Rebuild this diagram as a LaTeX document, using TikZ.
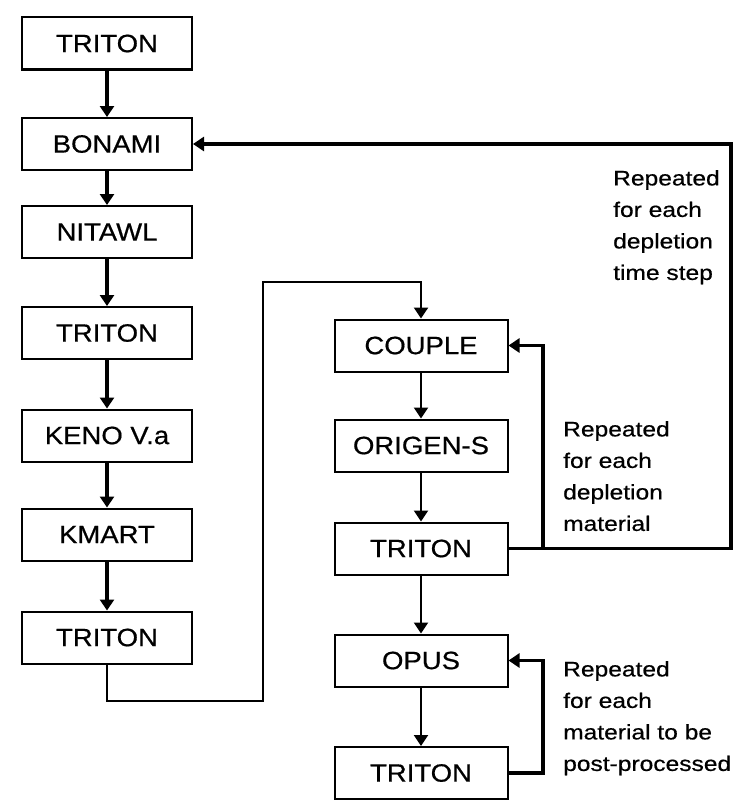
\documentclass[tikz,border=0pt]{standalone}
\usepackage{fontspec}
\setmainfont{Liberation Sans}
\newfontfamily\boxfont[FakeStretch=1.1,FakeBold=0.6]{Liberation Sans}
\newfontfamily\labfont[FakeStretch=1.17,FakeBold=0.5]{Liberation Sans}
\usetikzlibrary{arrows.meta}
\begin{document}
\begin{tikzpicture}[x=1pt,y=-1pt,
  prog/.style={draw,line width=2pt,inner sep=0pt,minimum height=52pt,
    font=\boxfont\fontsize{25}{30}\selectfont},
  leftbox/.style={prog,minimum width=170pt},
  rightbox/.style={prog,minimum width=173pt},
  tip/.style={-{Triangle[width=14pt,length=11pt]}},
  thickflow/.style={tip,line width=3.2pt},
  thinflow/.style={tip,line width=2pt},
  loopflow/.style={tip,line width=3.2pt},
  note/.style={align=left,anchor=north west,inner sep=0pt,
    font=\labfont\fontsize{21}{31.5}\selectfont}]
\useasboundingbox (0,0) rectangle (734,800);
% left column
\node[leftbox] (t1)  at (107,43.5) {TRITON};
\node[leftbox] (bon) at (107,144) {BONAMI};
\node[leftbox] (nit) at (107,232) {NITAWL};
\node[leftbox] (t2)  at (107,333) {TRITON};
\node[leftbox] (keno) at (107,435.5) {KENO V.a};
\node[leftbox] (km)  at (107,534.5) {KMART};
\node[leftbox] (t3)  at (107,637.5) {TRITON};
% right column
\node[rightbox] (cp)  at (421,345.5) {COUPLE};
\node[rightbox] (org) at (421,445.5) {ORIGEN-S};
\node[rightbox] (t4)  at (421,548.5) {TRITON};
\node[rightbox] (op)  at (421,660.5) {OPUS};
\node[rightbox] (t5)  at (421,773) {TRITON};
% notes
\node[note] (n1) at (613,170) {Repeated\\for each\\depletion\\time step};
\node[note] (n2) at (563,421) {Repeated\\for each\\depletion\\material};
\node[note] (n3) at (563,661) {Repeated\\for each\\material to be\\post-processed};
% coordinates
\coordinate (c1) at (107,701);
\coordinate (c2) at (263,701);
\coordinate (c3) at (263,282);
\coordinate (c4) at (421,282);
\coordinate (r1) at (731,548.5);
\coordinate (r2) at (731,144);
\coordinate (j1) at (543,548.5);
\coordinate (j2) at (543,773);
% left flow
\draw[thickflow] (t1) -- (bon);
\draw[thickflow] (bon) -- (nit);
\draw[thickflow] (nit) -- (t2);
\draw[thickflow] (t2) -- (keno);
\draw[thickflow] (keno) -- (km);
\draw[thickflow] (km) -- (t3);
% transfer
\draw[thinflow,line width=2.4pt] (t3.south) -- (c1) -- (c2) -- (c3) -- (c4) -- (cp.north);
% right flow
\draw[thinflow] (cp) -- (org);
\draw[thinflow] (org) -- (t4);
\draw[thinflow] (t4) -- (op);
\draw[thinflow] (op) -- (t5);
% loops
\draw[loopflow] (t4.east) -- (r1) -- (r2) -- (bon.east);
\draw[loopflow] (j1) |- (cp.east);
\draw[loopflow] (t5.east) -- (j2) |- (op.east);
\end{tikzpicture}
\end{document}
